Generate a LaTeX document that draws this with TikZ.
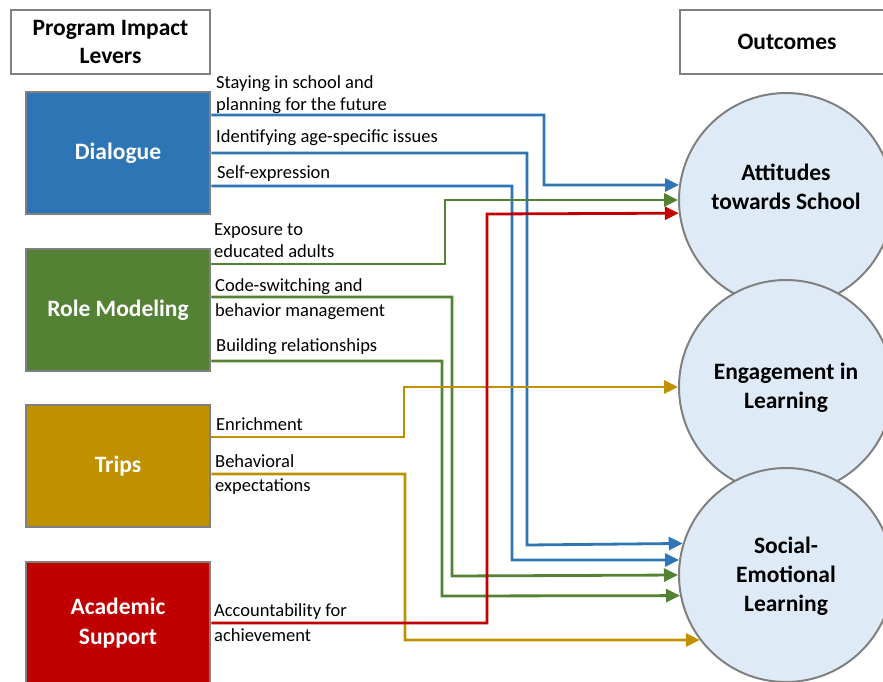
\documentclass[tikz,border=0pt]{standalone}
\usepackage{fontspec}
\setmainfont{Carlito}
\usetikzlibrary{arrows.meta}
\definecolor{dlgblue}{RGB}{46,117,182}
\definecolor{rmgreen}{RGB}{84,130,53}
\definecolor{tripgold}{RGB}{191,144,0}
\definecolor{acred}{RGB}{192,0,0}
\definecolor{circfill}{RGB}{222,235,247}
\definecolor{edgegray}{RGB}{128,128,128}
\begin{document}
\begin{tikzpicture}[x=1pt,y=-1pt,
header/.style={draw=edgegray,line width=2.5pt,fill=white,minimum height=64pt,align=center,font=\fontsize{23.5}{28}\selectfont\bfseries},
lever/.style={draw=edgegray,line width=2.5pt,minimum width=184pt,minimum height=122pt,align=center,text=white,font=\fontsize{23.5}{29.5}\selectfont\bfseries},
outcome/.style={circle,draw=edgegray,line width=2pt,fill=circfill,minimum size=214pt},
outtext/.style={align=center,font=\fontsize{23.5}{29}\selectfont\bfseries},
lbl/.style={anchor=west,align=left,inner sep=0pt,font=\fontsize{18.5}{22}\selectfont},
link/.style={line width=2.8pt,-{Triangle[length=14pt,width=13pt]}}]
\clip (0,0) rectangle (883,681);
\node[header,minimum width=199pt] (hdrlev) at (110.5,42) {Program Impact\\Levers};
\node[header,minimum width=214pt] (hdrout) at (787,42) {Outcomes};
\node[lever,fill=dlgblue] (dialogue) at (118,153) {Dialogue};
\node[lever,fill=rmgreen] (rolemod) at (118,310) {Role Modeling};
\node[lever,fill=tripgold] (trips) at (118,466) {Trips};
\node[lever,fill=acred] (academic) at (118,623) {Academic\\Support};
\node[outcome] (attitudes) at (786,200) {};
\node[outtext] (attitudestxt) at (786,187) {Attitudes\\towards School};
\node[outcome] (engage) at (786,387) {};
\node[outtext] (engagetxt) at (786,388) {Engagement in\\Learning};
\node[outcome] (social) at (786,575) {};
\node[outtext] (socialtxt) at (786,576) {Social-\\Emotional\\Learning};
\node[lbl] (lstay) at (216,94.5) {Staying in school and\\planning for the future};
\node[lbl] (lident) at (216,138) {Identifying age-specific issues};
\node[lbl] (lself) at (217,174) {Self-expression};
\node[lbl] (lexpo) at (214,241) {Exposure to\\educated adults};
\node[lbl] (lcode) at (215,299) {Code-switching and\\[3pt]behavior management};
\node[lbl] (lbuild) at (216,347) {Building relationships};
\node[lbl] (lenrich) at (216,424) {Enrichment};
\node[lbl] (lbehav) at (215,475) {Behavioral\\[2pt]expectations};
\node[lbl] (lacct) at (214,623) {Accountability for\\[3pt]achievement};
\draw[link,dlgblue] (dialogue.east |- 0,115) -| (544,185) -- (attitudes.172);
\draw[link,dlgblue] (dialogue.east |- 0,153) -| (527,545) -- (social.163.9);
\draw[link,dlgblue] (dialogue.east |- 0,186) -| (512,560) -- (social.172);
\draw[link,rmgreen] (rolemod.east |- 0,264) -| (445,200) -- (attitudes.180);
\draw[link,rmgreen] (rolemod.east |- 0,297) -| (452,576) -- (social.180.5);
\draw[link,rmgreen] (rolemod.east |- 0,361) -| (442,596) -- (social.191.2);
\draw[link,tripgold] (trips.east |- 0,437) -| (404,387) -- (engage.180);
\draw[link,tripgold] (trips.east |- 0,474) -| (405,640) -- (social.217);
\draw[link,acred] (academic.east |- 0,623) -| (487,214) -- (attitudes.187.5);
\end{tikzpicture}
\end{document}
